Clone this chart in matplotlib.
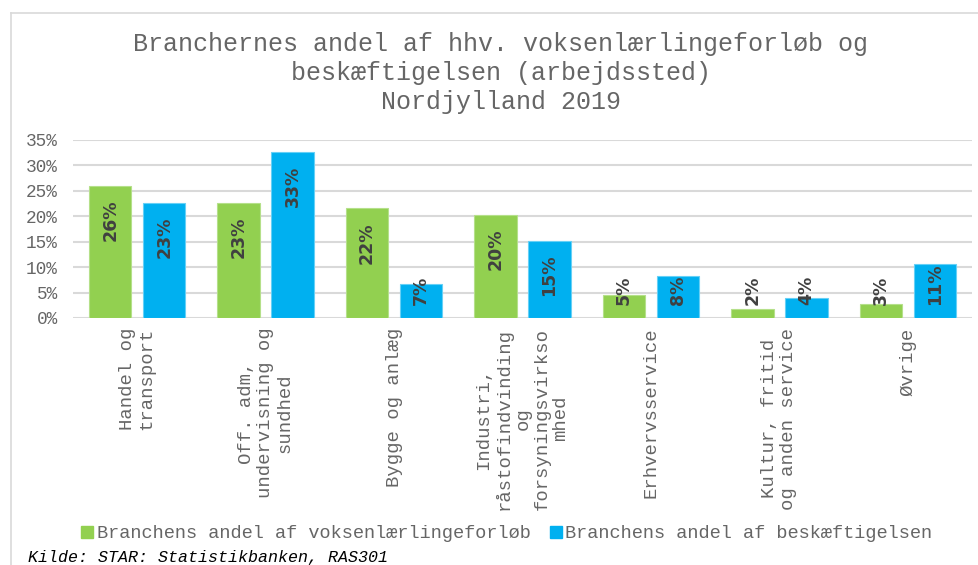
import matplotlib
matplotlib.use("Agg")
import matplotlib.pyplot as plt
import numpy as np
from matplotlib.lines import Line2D
from matplotlib.patches import Patch

categories = [
    "Handel og\ntransport",
    "Off. adm,\nundervisning og\nsundhed",
    "Bygge og anlæg",
    "Industri,\nråstofindvinding\nog\nforsyningsvirkso\nmhed",
    "Erhvervsservice",
    "Kultur, fritid\nog anden service",
    "Øvrige",
]
voksen = [26.0, 22.7, 21.6, 20.3, 4.6, 1.7, 2.7]
beskaeft = [22.6, 32.6, 6.6, 15.2, 8.2, 3.9, 10.7]
series_names = ["Branchens andel af voksenlærlingeforløb",
                "Branchens andel af beskæftigelsen"]
title = "Branchernes andel af hhv. voksenlærlingeforløb og\nbeskæftigelsen (arbejdssted)\nNordjylland 2019"
yticks = [0, 5, 10, 15, 20, 25, 30, 35]

GREEN = "#92D050"
BLUE = "#00B0F0"
GRID = "#D9D9D9"
TXT = "#666666"
MONO = "Liberation Mono"

W, H = 979, 565
fig = plt.figure(figsize=(W / 100, H / 100), dpi=100)

# outer frame
fig.add_artist(Line2D([11 / W, 11 / W], [0, 1 - 13 / H], transform=fig.transFigure,
                      color=GRID, lw=1.2))
fig.add_artist(Line2D([11 / W, 1], [1 - 13 / H, 1 - 13 / H], transform=fig.transFigure,
                      color=GRID, lw=1.2))

ax = fig.add_axes([73 / W, 1 - 318 / H, (972 - 73) / W, (318 - 140) / H])
x = np.arange(len(categories))
bw = 0.33
off = 0.21
b1 = ax.bar(x - off, voksen, bw, color=GREEN, edgecolor="#B5E08A", linewidth=0.8, zorder=3)
b2 = ax.bar(x + off, beskaeft, bw, color=BLUE, edgecolor="#66D0F6", linewidth=0.8, zorder=3)

ax.set_xlim(-0.5, len(categories) - 0.5)
ax.set_ylim(0, 35)
ax.set_yticks(yticks)
ax.set_yticklabels([f"{t}%" for t in yticks], fontfamily=MONO, fontsize=12.8, color=TXT)
ax.set_xticks(x)
ax.set_xticklabels(categories, rotation=90, fontfamily=MONO, fontsize=13.6, color=TXT,
                   ha="center", va="top", multialignment="center", linespacing=1.15)
ax.tick_params(axis="both", length=0)
ax.tick_params(axis="y", pad=11)
ax.tick_params(axis="x", pad=7)
for s in ax.spines.values():
    s.set_visible(False)
ax.yaxis.grid(True, color=GRID, lw=1.5, zorder=0)
ax.set_axisbelow(True)

ppu = (318 - 140) / 35.0
for bars, vals in ((b1, voksen), (b2, beskaeft)):
    for rect, v in zip(bars, vals):
        lab = f"{v:.0f}%"
        L = len(lab) * 11.7
        cx = rect.get_x() + rect.get_width() / 2
        if v * ppu - 14 - L < 13:
            ax.annotate(lab, (cx, 0), xytext=(0, 13), textcoords="offset pixels",
                        rotation=90, ha="center", va="bottom", fontsize=12.5,
                        fontfamily="DejaVu Sans", fontweight="bold",
                        color="#404040", zorder=5)
        else:
            ax.annotate(lab, (cx, v), xytext=(0, -14), textcoords="offset pixels",
                        rotation=90, ha="center", va="top", fontsize=12.5,
                        fontfamily="DejaVu Sans", fontweight="bold",
                        color="#404040", zorder=5)

fig.text(501 / W, 1 - 32 / H, title, ha="center", va="top", fontfamily=MONO,
         fontsize=18, color=TXT, linespacing=1.25)

handles = [Patch(color=GREEN), Patch(color=BLUE)]
fig.legend(handles, series_names, loc="center", bbox_to_anchor=(507 / W, 1 - 534 / H),
           ncol=2, frameon=False, prop={"family": MONO, "size": 13.4},
           labelcolor=TXT, handlelength=0.65, handleheight=0.65, handletextpad=0.2,
           columnspacing=1.0)

fig.text(28 / W, 1 - 562 / H, "Kilde: STAR: Statistikbanken, RAS301", ha="left",
         va="baseline", fontfamily=MONO, fontstyle="italic", fontsize=12, color="black")

fig.savefig("out.png", dpi=100)
